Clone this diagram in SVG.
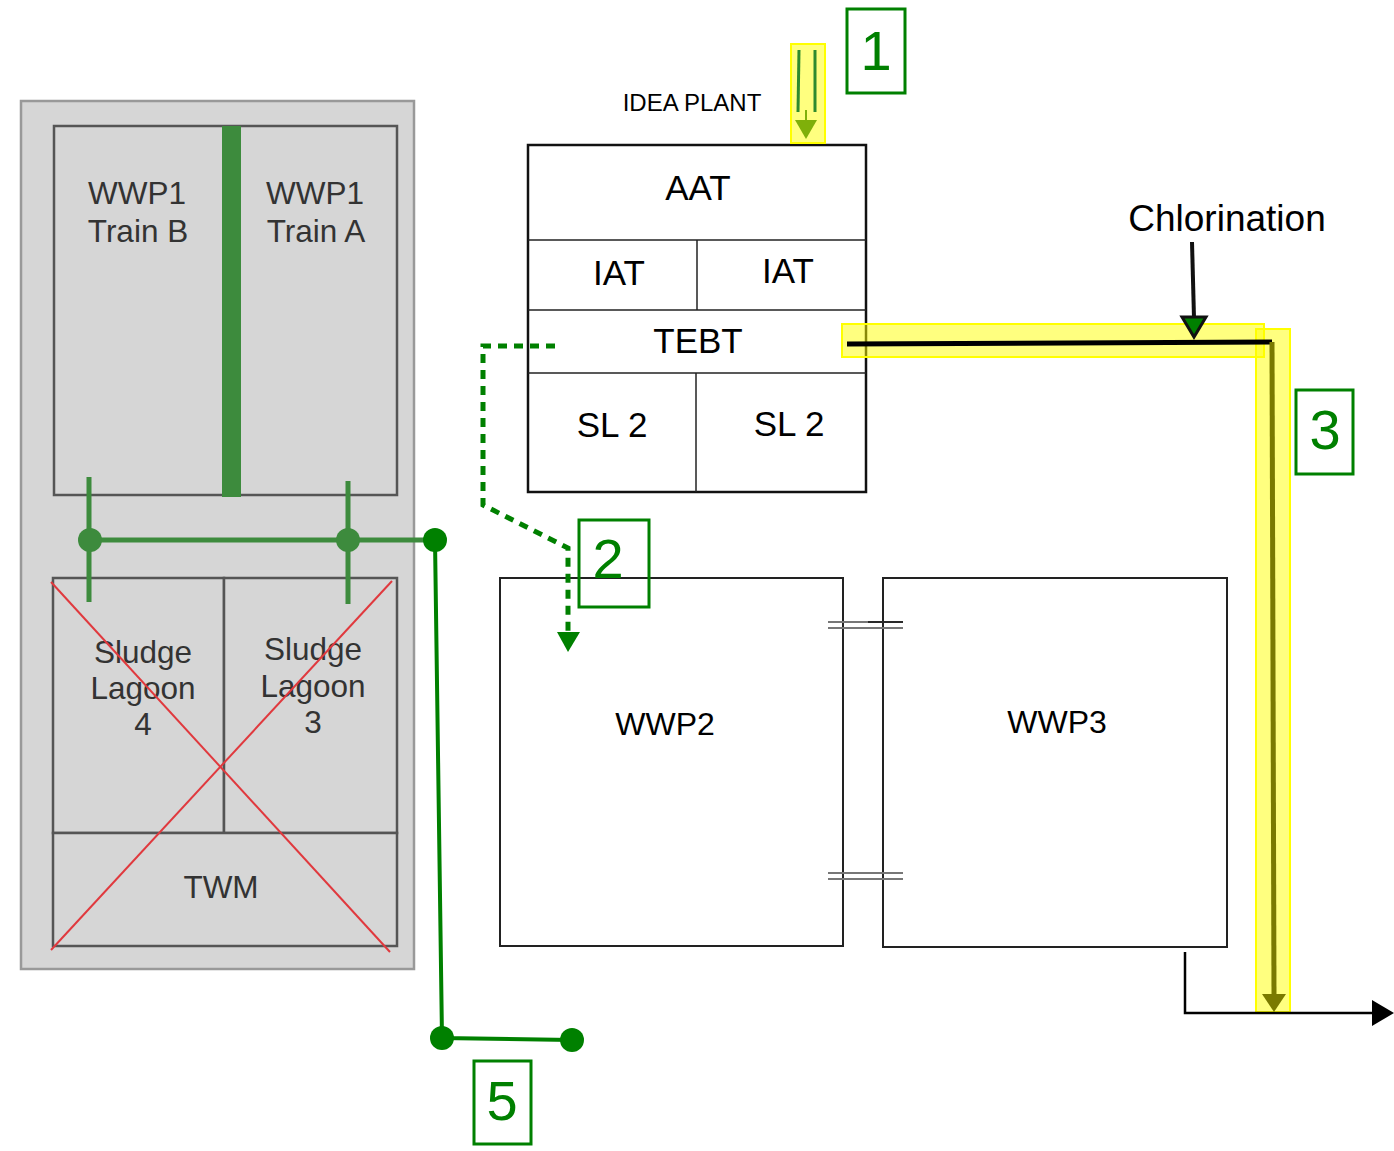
<svg xmlns="http://www.w3.org/2000/svg" width="1394" height="1151" viewBox="0 0 1394 1151">
<style>
.t{font-family:"Liberation Sans",Arial,sans-serif;text-anchor:middle}
.blk{fill:#000}
.gry{fill:#333}
.box{fill:#fff;stroke:#222;stroke-width:2}
.gbox{fill:#d6d6d6;stroke:#555;stroke-width:2.5}
.lab{fill:#fff;stroke:#008000;stroke-width:3}
.labt{fill:#008000;font-size:56px}
.hl{fill:#ffff00;fill-opacity:0.5;stroke:#ffff00;stroke-width:2}
</style>
<rect width="1394" height="1151" fill="#fff"/>

<g id="wwp1-site">
<rect x="21" y="101" width="393" height="868" fill="#d6d6d6" stroke="#999" stroke-width="2.5"/>
</g>
<g id="wwp1">
<rect class="gbox" x="54" y="126" width="343" height="369"/>
<text class="t gry" x="137" y="204" font-size="31.5">WWP1</text>
<text class="t gry" x="138" y="242" font-size="31.5">Train B</text>
<text class="t gry" x="315" y="204" font-size="31.5">WWP1</text>
<text class="t gry" x="316" y="242" font-size="31.5">Train A</text>
<rect x="222" y="126" width="19" height="371" fill="#3d8b3d"/>
</g>
<g id="sludge-lagoons">
<rect class="gbox" x="53" y="578" width="171" height="255"/>
<rect class="gbox" x="224" y="578" width="173" height="255"/>
<rect class="gbox" x="53" y="833" width="344" height="113"/>
<text class="t gry" x="143" y="663" font-size="31.5">Sludge</text>
<text class="t gry" x="143" y="699" font-size="31.5">Lagoon</text>
<text class="t gry" x="143" y="735" font-size="31.5">4</text>
<text class="t gry" x="313" y="660" font-size="31.5">Sludge</text>
<text class="t gry" x="313" y="697" font-size="31.5">Lagoon</text>
<text class="t gry" x="313" y="733" font-size="31.5">3</text>
<text class="t gry" x="221" y="898" font-size="31.5">TWM</text>
<line x1="51" y1="582" x2="390" y2="952" stroke="#e0393e" stroke-width="2"/>
<line x1="392" y1="581" x2="51" y2="950" stroke="#e0393e" stroke-width="2"/>
</g>

<g id="idea-plant">
<text class="t blk" x="692" y="111" font-size="24">IDEA PLANT</text>
<rect x="528" y="145" width="338" height="347" fill="#fff" stroke="#111" stroke-width="2.5"/>
<line x1="528" y1="240" x2="866" y2="240" stroke="#222" stroke-width="1.5"/>
<line x1="528" y1="310" x2="866" y2="310" stroke="#222" stroke-width="1.5"/>
<line x1="528" y1="373" x2="866" y2="373" stroke="#222" stroke-width="1.5"/>
<line x1="697" y1="240" x2="697" y2="310" stroke="#222" stroke-width="1.5"/>
<line x1="696" y1="373" x2="696" y2="492" stroke="#222" stroke-width="1.5"/>
<text class="t blk" x="698" y="200" font-size="35">AAT</text>
<text class="t blk" x="619" y="285" font-size="35">IAT</text>
<text class="t blk" x="788" y="283" font-size="35">IAT</text>
<text class="t blk" x="698" y="353" font-size="35">TEBT</text>
<text class="t blk" x="612" y="437" font-size="35">SL 2</text>
<text class="t blk" x="789" y="436" font-size="35">SL 2</text>
</g>

<g id="wwp2">
<rect class="box" x="500" y="578" width="343" height="368"/>
<text class="t blk" x="665" y="735" font-size="32">WWP2</text>
</g>
<g id="wwp3">
<rect class="box" x="883" y="578" width="344" height="369"/>
<text class="t blk" x="1057" y="733" font-size="32">WWP3</text>
</g>
<g id="chlorination">
<text class="t blk" x="1227" y="231" font-size="37">Chlorination</text>
</g>

<g id="connectors">
<rect class="hl" x="791" y="44" width="34" height="99"/>
<rect class="hl" x="842" y="324" width="422" height="33"/>
<rect class="hl" x="1256" y="329" width="34" height="683"/>
<line x1="799" y1="50" x2="798" y2="112" stroke="#2e8b2e" stroke-width="3"/>
<line x1="815" y1="50" x2="815" y2="112" stroke="#2e8b2e" stroke-width="3"/>
<line x1="806" y1="110" x2="806" y2="122" stroke="#7fb00a" stroke-width="2"/>
<path d="M795,120 L817,120 L806,139 z" fill="#7fb00a"/>
<path d="M555,346 L483,346 L483,505 L568,548 L568,634" fill="none" stroke="#008000" stroke-width="5" stroke-dasharray="9,7"/>
<path d="M557,632 L580,632 L568,652 z" fill="#008000"/>
<g stroke="#777" stroke-width="2">
<line x1="828" y1="622" x2="903" y2="622"/>
<line x1="828" y1="628" x2="903" y2="628"/>
<line x1="828" y1="873" x2="903" y2="873"/>
<line x1="828" y1="879" x2="903" y2="879"/>
</g>
<line x1="868" y1="622" x2="903" y2="622" stroke="#111" stroke-width="1.5"/>
<line x1="1192" y1="242" x2="1194" y2="318" stroke="#111" stroke-width="4"/>
<path d="M1182,317 L1206,317 L1194,337 z" fill="#008000" stroke="#111" stroke-width="3"/>
<line x1="847" y1="344" x2="1272" y2="342" stroke="#000" stroke-width="5"/>
<line x1="1272" y1="342" x2="1274" y2="996" stroke="#7a7a00" stroke-width="5"/>
<path d="M1262,994 L1286,994 L1274,1012 z" fill="#7a7a00"/>
<path d="M1185,952 L1185,1013 L1375,1013" fill="none" stroke="#000" stroke-width="2.5"/>
<path d="M1372,1000 L1394,1013 L1372,1026 z" fill="#000"/>
<line x1="89" y1="477" x2="89" y2="602" stroke="#3d8b3d" stroke-width="5"/>
<line x1="348" y1="481" x2="348" y2="604" stroke="#3d8b3d" stroke-width="5"/>
<line x1="90" y1="540" x2="435" y2="540" stroke="#3d8b3d" stroke-width="5"/>
<circle cx="90" cy="540" r="12" fill="#3d8b3d"/>
<circle cx="348" cy="540" r="12" fill="#3d8b3d"/>
<path d="M435,540 L442,1038 L572,1040" fill="none" stroke="#008000" stroke-width="4"/>
<circle cx="435" cy="540" r="12" fill="#008000"/>
<circle cx="442" cy="1038" r="12" fill="#008000"/>
<circle cx="572" cy="1040" r="12" fill="#008000"/>
</g>

<g id="label-1">
<rect class="lab" x="847" y="9" width="58" height="84"/>
<text class="t labt" x="876" y="70">1</text>
</g>
<g id="label-2">
<rect class="lab" x="579" y="520" width="70" height="87" fill-opacity="0"/>
<text class="t labt" x="608" y="578">2</text>
</g>
<g id="label-3">
<rect class="lab" x="1296" y="390" width="57" height="84"/>
<text class="t labt" x="1325" y="449">3</text>
</g>
<g id="label-5">
<rect class="lab" x="474" y="1061" width="57" height="83"/>
<text class="t labt" x="502" y="1120">5</text>
</g>
</svg>
